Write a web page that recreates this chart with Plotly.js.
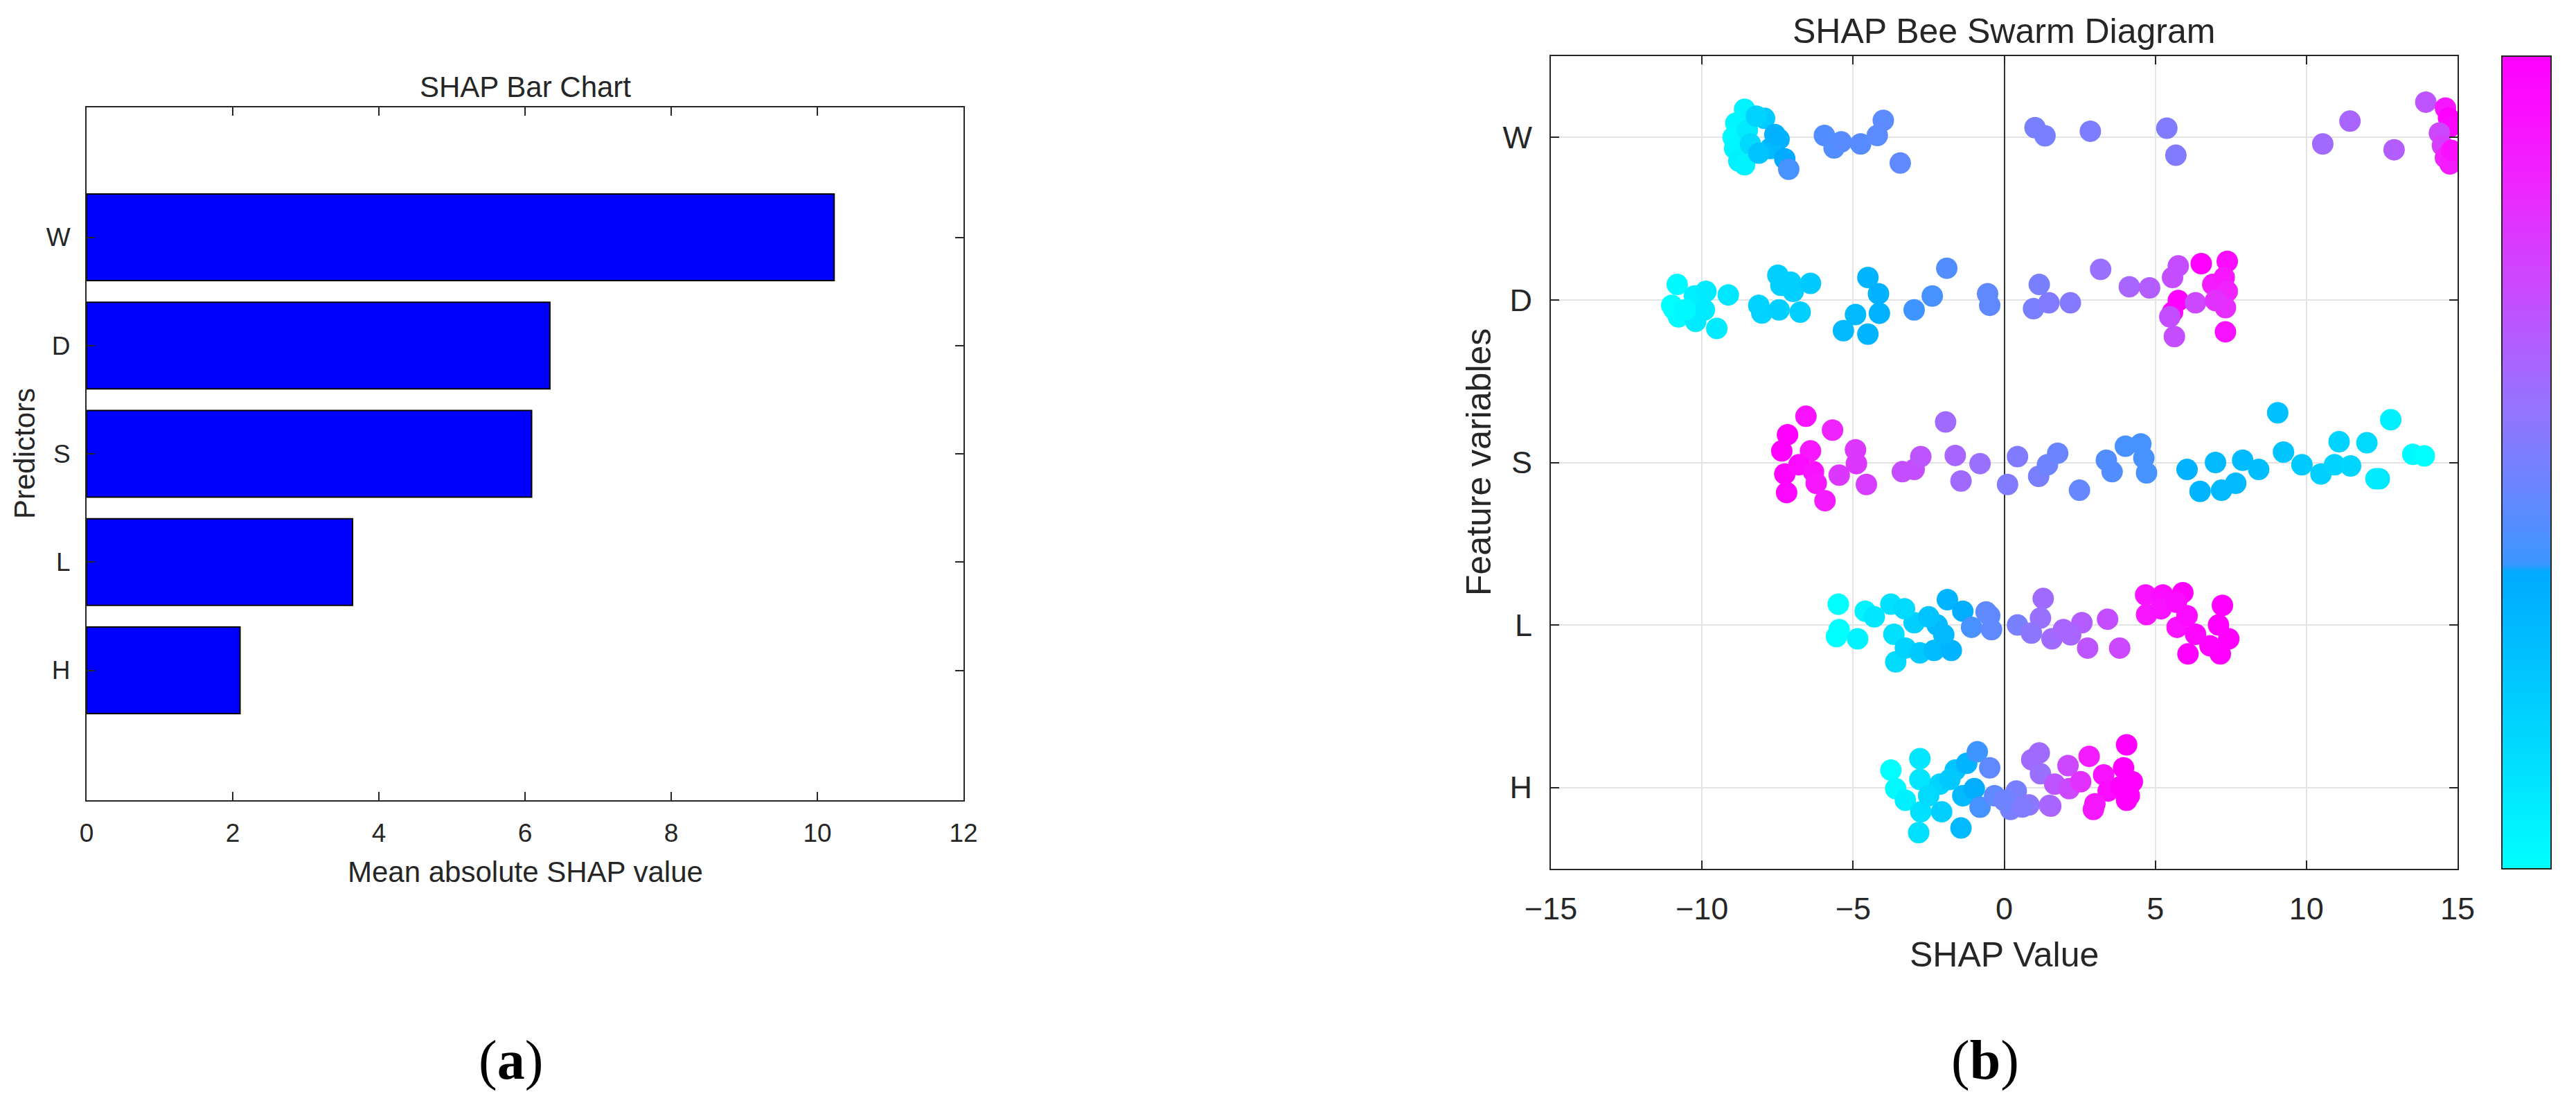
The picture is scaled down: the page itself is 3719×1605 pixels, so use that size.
<!DOCTYPE html>
<html>
<head>
<meta charset="utf-8">
<script src="https://cdn.plot.ly/plotly-3.0.1.min.js"></script>
<style>html,body{margin:0;padding:0;background:#fff;}#chart{width:3719px;height:1605px;}</style>
</head>
<body>
<div id="chart"></div>
<script>
// ---------------- DATA ----------------
const FEATURES = ['W', 'D', 'S', 'L', 'H'];
const BAR_VALUES = [10.23, 6.34, 6.09, 3.64, 2.10];
const X_TICKS_BAR = [0, 2, 4, 6, 8, 10, 12];
const X_TICKS_SWARM = [-15, -10, -5, 0, 5, 10, 15];

// Bee swarm: SHAP value, vertical jitter, feature value colour (0..1)
const W_x = [-8.59,-8.88,-8.97,-8.92,-8.78,-8.59,-8.5,-8.4,-7.93,-8.2,-7.45,-7.74,-7.26,-7.13,-8.12,-7.59, -5.95,-5.63,-5.39,-4.75,-4.2,-4.0,-3.44, 1.02,1.35,2.85,5.38,5.68, 10.54,11.44,12.9,13.95, 14.6,14.7,14.75,14.4,14.5,14.6,14.75,14.8];
const W_jit = [0.173,0.088,0.0,-0.068,-0.146,-0.168,0.045,-0.04,0.117,0.13,-0.011,-0.068,-0.132,-0.196,-0.097,0.017, 0.012,-0.065,-0.028,-0.04,0.012,0.105,-0.158, 0.06,0.01,0.038,0.057,-0.11, -0.04,0.1,-0.076,0.217, 0.18,0.12,0.065,0.027,-0.05,-0.125,-0.163,-0.08];
const W_c = [0.05,0.04,0.03,0.04,0.06,0.05,0.08,0.15,0.22,0.18,0.33,0.3,0.36,0.4,0.25,0.33, 0.42,0.42,0.43,0.43,0.44,0.44,0.45, 0.5,0.5,0.51,0.52,0.52, 0.6,0.62,0.65,0.68, 0.9,1.0,0.97,0.72,0.76,0.85,0.88,0.93];

const D_x = [-10.82,-11.0,-10.78,-10.25,-10.21,-9.87,-9.92,-9.51,-9.13,-10.93,-10.55, -8.12,-8.02,-7.49,-7.45,-7.07,-6.98,-6.75,-6.41,-7.39, -5.32,-4.92,-4.51,-4.51,-4.16,-4.13,-2.98,-2.38,-1.9,-0.55,-0.48, 0.97,1.16,1.48,2.19,3.19,4.14,4.81, 5.57,5.76,5.76,5.57,5.48,5.63,6.33,6.52,6.9,7.38,7.28,7.38,7.32,7.32,6.99];
const D_jit = [0.095,-0.033,-0.104,0.024,-0.132,0.053,-0.061,-0.175,0.031,-0.057,-0.061, -0.033,-0.08,0.152,-0.061,0.109,0.053,-0.075,0.102,0.09, -0.189,-0.09,0.138,-0.21,0.038,-0.082,-0.061,0.024,0.195,0.038,-0.033, -0.054,0.095,-0.018,-0.018,0.188,0.081,0.074, 0.138,0.209,-0.004,-0.075,-0.104,-0.225,-0.018,0.223,0.095,0.237,0.138,0.053,-0.047,-0.196,-0.004];
const D_c = [0.02,0.0,0.02,0.06,0.08,0.08,0.08,0.08,0.1,0.01,0.03, 0.18,0.18,0.2,0.2,0.2,0.2,0.2,0.22,0.2, 0.3,0.3,0.32,0.32,0.33,0.33,0.38,0.4,0.42,0.45,0.45, 0.5,0.5,0.52,0.53,0.58,0.62,0.65, 0.7,0.7,1.0,0.98,0.7,0.7,0.72,1.0,0.88,0.95,0.9,0.85,0.82,0.92,0.8];

const S_x = [-7.17,-7.36,-7.26,-7.2,-6.56,-6.41,-6.79,-6.31,-6.22,-5.93,-5.68,-5.46,-4.92,-4.89,-4.56, -3.37,-2.98,-2.76,-1.94,-1.62,-1.43,-0.8, 0.11,0.44,1.14,1.43,1.77,2.49,3.38,3.57,4.01,4.52,4.62,4.71, 6.05,6.48,6.99,7.19,7.66,7.89,8.42,9.05,9.24,9.85,10.48,11.08,10.93,11.46,12.0,12.41,12.79,13.52,13.9,12.3];
const S_jit = [0.171,0.071,-0.071,-0.185,0.284,0.071,-0.014,-0.057,-0.128,-0.235,0.199,-0.078,0.078,-0.007,-0.135, -0.057,-0.043,0.036,0.249,0.043,-0.114,-0.007, -0.135,0.036,-0.085,-0.014,0.057,-0.171,0.014,-0.057,0.1,0.114,0.028,-0.064, -0.043,-0.178,0.0,-0.171,-0.128,0.014,-0.043,0.306,0.064,-0.014,-0.071,0.128,-0.014,-0.021,0.121,-0.1,0.263,0.05,0.04,-0.1];
const S_c = [1.0,1.0,0.98,0.97,0.92,0.9,0.95,0.92,0.9,0.88,0.85,0.78,0.78,0.78,0.76, 0.7,0.7,0.68,0.6,0.62,0.6,0.58, 0.52,0.52,0.5,0.48,0.47,0.46,0.42,0.42,0.4,0.4,0.4,0.4, 0.33,0.32,0.3,0.3,0.3,0.29,0.27,0.26,0.25,0.22,0.2,0.18,0.18,0.17,0.15,0.1,0.06,0.02,0.0,0.08];

const L_x = [-5.49,-5.46,-5.55,-4.85,-4.6,-3.75,-3.65,-3.59,-2.98,-3.27,-2.79,-1.88,-2.22,-2.32,-1.75,-1.37,-1.08,-0.48,-0.42,0.44, 1.29,1.2,1.58,1.96,2.57,2.76,3.42,3.82, 4.68,5.25,5.91,4.71,5.19,5.72,6.05,6.33,6.08,7.22,7.09,7.43,7.15,6.81, -4.3,-3.3,-2.5,-2.0,-0.6,0.9,2.2,5.7];
const L_jit = [0.128,-0.028,-0.071,-0.085,0.085,0.128,-0.057,-0.227,0.014,-0.142,-0.171,0.156,0.0,-0.156,-0.156,0.085,-0.014,0.057,-0.028,0.0, 0.163,0.043,-0.085,-0.028,0.014,-0.142,0.036,-0.142, 0.185,0.185,0.199,0.064,0.1,-0.014,0.057,-0.057,-0.178,0.121,0.0,-0.085,-0.178,-0.128, 0.05,0.1,0.05,-0.06,0.08,-0.05,-0.06,0.14];
const L_c = [0.0,0.0,0.0,0.05,0.05,0.12,0.12,0.15,0.2,0.18,0.22,0.32,0.3,0.28,0.32,0.35,0.4,0.45,0.45,0.5, 0.6,0.58,0.6,0.62,0.65,0.68,0.7,0.72, 0.92,0.95,1.0,0.9,0.92,0.92,0.95,0.97,1.0,1.0,1.0,1.0,1.0,0.98, 0.1,0.15,0.25,0.3,0.45,0.55,0.62,0.95];

const H_x = [-3.75,-3.59,-3.27,-2.79,-2.79,-2.76,-2.83,-2.13,-2.07,-1.62,-1.37,-1.43,-1.24,-0.89,-0.99,-0.8,-0.48,-0.32, 0.21,0.4,0.82,0.91,1.16,1.2,1.54,1.67,2.11,2.15,2.53,2.81,2.95,3.29,3.44,3.86,4.05,3.95,4.14,4.05,4.24, -2.5,-1.8,0.0,0.6,1.5,3.0];
const H_jit = [0.107,-0.007,-0.078,0.178,0.05,-0.149,-0.277,0.021,-0.149,0.107,-0.05,-0.249,0.149,0.22,-0.007,-0.121,0.121,-0.05, -0.135,-0.021,-0.107,0.171,0.213,0.085,-0.114,0.021,0.135,-0.007,0.036,0.192,-0.135,0.078,-0.021,0.007,0.263,0.121,-0.05,-0.078,0.036, -0.05,0.05,-0.08,-0.12,-0.11,-0.1];
const H_c = [0.0,0.02,0.06,0.1,0.1,0.12,0.12,0.18,0.2,0.25,0.3,0.3,0.32,0.38,0.35,0.4,0.45,0.45, 0.5,0.5,0.55,0.6,0.6,0.58,0.65,0.68,0.72,0.72,0.8,0.88,0.9,0.92,0.95,1.0,1.0,1.0,1.0,1.0,1.0, 0.15,0.22,0.48,0.52,0.62,0.9];

// ---------------- BUILD ----------------
const W = 3719, Hh = 1605;
const px = v => v / W;
const py = v => 1 - v / Hh;
const INK = '#262626';
const SANS = 'Liberation Sans, Arial, Helvetica, sans-serif';

const pos = {};
FEATURES.forEach((f, i) => { pos[f] = FEATURES.length - i; });
const TICKVALS = FEATURES.map(f => pos[f]);

const swarm = {W: [W_x, W_jit, W_c], D: [D_x, D_jit, D_c], S: [S_x, S_jit, S_c], L: [L_x, L_jit, L_c], H: [H_x, H_jit, H_c]};

const traces = [];
traces.push({
  type: 'bar', orientation: 'h',
  x: BAR_VALUES, y: FEATURES.map(f => pos[f]),
  width: 0.8,
  marker: {color: '#0000FF', line: {color: '#000000', width: 2}},
  xaxis: 'x', yaxis: 'y', hoverinfo: 'x+y'
});

FEATURES.slice().reverse().forEach(f => {
  const [xs, js, cs] = swarm[f];
  traces.push({
    type: 'scatter', mode: 'markers',
    x: xs, y: js.map(j => pos[f] + j),
    marker: {size: 31, color: cs, coloraxis: 'coloraxis', opacity: 1, line: {width: 0}},
    xaxis: 'x2', yaxis: 'y2', name: f
  });
});

const axisStyle = {
  showline: true, linewidth: 2, linecolor: INK, mirror: 'ticks',
  ticks: 'inside', ticklen: 12, tickwidth: 2, tickcolor: INK,
  zeroline: false, fixedrange: true
};

const COLORSCALE = [
  [0, 'rgb(0,255,255)'], [0.15, 'rgb(0,218,255)'], [0.365, 'rgb(0,170,255)'],
  [0.375, 'rgb(60,150,255)'], [0.5, 'rgb(120,128,255)'], [0.57, 'rgb(150,115,255)'],
  [0.64, 'rgb(175,95,255)'], [0.71, 'rgb(200,75,255)'], [0.78, 'rgb(220,55,255)'],
  [0.85, 'rgb(240,35,255)'], [0.93, 'rgb(250,15,255)'], [1, 'rgb(255,0,255)']
];

const layout = {
  width: W, height: Hh,
  margin: {l: 0, r: 0, t: 0, b: 0},
  paper_bgcolor: '#ffffff', plot_bgcolor: '#ffffff',
  showlegend: false,
  font: {family: SANS, color: INK},
  xaxis: Object.assign({}, axisStyle, {
    domain: [px(125), px(1391)], range: [0, 12], tickvals: X_TICKS_BAR,
    showgrid: false, anchor: 'y', tickfont: {size: 37}, ticklabelstandoff: 14
  }),
  yaxis: Object.assign({}, axisStyle, {
    domain: [py(1155), py(155)], range: [-0.2, 6.2], tickvals: TICKVALS, ticktext: FEATURES,
    showgrid: false, anchor: 'x', tickfont: {size: 37}, ticklabelstandoff: 14
  }),
  xaxis2: Object.assign({}, axisStyle, {
    domain: [px(2239), px(3548)], range: [-15, 15], tickvals: X_TICKS_SWARM,
    showgrid: true, gridcolor: '#e3e3e3', gridwidth: 2,
    zeroline: true, zerolinecolor: '#333333', zerolinewidth: 2,
    anchor: 'y2', tickfont: {size: 45}, ticklabelstandoff: 17
  }),
  yaxis2: Object.assign({}, axisStyle, {
    domain: [py(1254), py(81)], range: [0.5, 5.5], tickvals: TICKVALS, ticktext: FEATURES,
    showgrid: true, gridcolor: '#e3e3e3', gridwidth: 2,
    anchor: 'x2', tickfont: {size: 45}, ticklabelstandoff: 16
  }),
  coloraxis: {
    cmin: 0, cmax: 1, colorscale: COLORSCALE,
    colorbar: {
      thickness: 71, thicknessmode: 'pixels', len: 1173, lenmode: 'pixels',
      x: px(3612), xanchor: 'left', y: py(1254), yanchor: 'bottom',
      xpad: 0, ypad: 0, outlinewidth: 2, outlinecolor: INK,
      showticklabels: false, ticks: ''
    }
  },
  annotations: [
    {text: 'SHAP Bar Chart', x: px(758), y: py(125), font: {size: 42}},
    {text: 'Mean absolute SHAP value', x: px(758), y: py(1258), font: {size: 42}},
    {text: 'Predictors', x: px(36), y: py(655), textangle: -90, font: {size: 42}},
    {text: 'SHAP Bee Swarm Diagram', x: px(2893), y: py(45), font: {size: 50}},
    {text: 'SHAP Value', x: px(2893), y: py(1378), font: {size: 50}},
    {text: 'Feature variables', x: px(2135), y: py(667), textangle: -90, font: {size: 50}},
    {text: '(<b>a</b>)', x: px(737), y: py(1530), font: {size: 80, family: 'Liberation Serif, Times New Roman, serif', color: '#000'}},
    {text: '(<b>b</b>)', x: px(2866), y: py(1530), font: {size: 80, family: 'Liberation Serif, Times New Roman, serif', color: '#000'}}
  ].map(a => Object.assign({xref: 'paper', yref: 'paper', showarrow: false, xanchor: 'center', yanchor: 'middle'}, a))
};

Plotly.newPlot('chart', traces, layout, {displayModeBar: false, staticPlot: true});
</script>
</body>
</html>
